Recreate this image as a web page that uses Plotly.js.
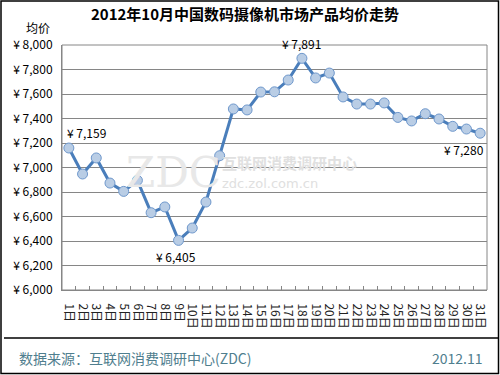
<!DOCTYPE html>
<html>
<head>
<meta charset="utf-8">
<script src="https://cdn.plot.ly/plotly-3.0.1.min.js"></script>
<style>
html,body{margin:0;padding:0;background:#fff;}
#chart{width:500px;height:375px;}
</style>
</head>
<body>
<div id="chart"></div>
<script>
// ---- data ----
var days = ["1日","2日","3日","4日","5日","6日","7日","8日","9日","10日","11日","12日","13日","14日","15日","16日","17日","18日","19日","20日","21日","22日","23日","24日","25日","26日","27日","28日","29日","30日","31日"];
var prices = [7159,6947,7078,6873,6805,6895,6631,6678,6405,6506,6718,7096,7478,7470,7616,7618,7714,7891,7731,7771,7576,7518,7518,7527,7409,7380,7439,7396,7336,7314,7280];
var yTickVals = [6000,6200,6400,6600,6800,7000,7200,7400,7600,7800,8000];
var yTickText = ["¥ 6,000","¥ 6,200","¥ 6,400","¥ 6,600","¥ 6,800","¥ 7,000","¥ 7,200","¥ 7,400","¥ 7,600","¥ 7,800","¥ 8,000"];
var labelIdx = [0, 8, 17, 30];
var titleText = "2012年10月中国数码摄像机市场产品均价走势";
var yTitle = "均价";
var sourceText = "数据来源：互联网消费调研中心(ZDC)";
var dateText = "2012.11";

// ---- layout helpers ----
var W = 500, H = 375;
var M = {l:62, r:13, t:45, b:85};
var PW = W - M.l - M.r, PH = H - M.t - M.b;
function px(x){ return (x - M.l) / PW; }
function py(y){ return (H - M.b - y) / PH; }

var FONT = "Noto Sans CJK SC, Noto Sans, sans-serif";
var lineColor = "#4a7ebb";

function fmt(v){ return "¥ " + v.toLocaleString("en-US"); }

var trace = {
  x: days, y: prices, type: "scatter", mode: "lines+markers",
  line: {color: lineColor, width: 3},
  marker: {size: 10, color: "#b9cde5", line: {color: "#6f98cc", width: 1}},
  hoverinfo: "x+y"
};

var anns = [];
var place = {
  0:  {xanchor:"left",  yanchor:"bottom", xshift:-4, yshift:5},
  8:  {xanchor:"center",yanchor:"top",    xshift:-3, yshift:-6},
  17: {xanchor:"center",yanchor:"bottom", xshift:0,  yshift:4},
  30: {xanchor:"right", yanchor:"top",    xshift:6,  yshift:-6}
};
labelIdx.forEach(function(i){
  var p = place[i];
  anns.push({x: days[i], y: prices[i], xref:"x", yref:"y", text: fmt(prices[i]),
    showarrow:false, xanchor:p.xanchor, yanchor:p.yanchor, xshift:p.xshift, yshift:p.yshift,
    font:{family:FONT, size:12, color:"#000"}});
});
anns.push({x: px(38), y: py(27), xref:"paper", yref:"paper", text: yTitle, showarrow:false,
  xanchor:"center", yanchor:"middle", font:{family:FONT, size:12, color:"#000"}});
anns.push({x: px(17), y: py(358), xref:"paper", yref:"paper", text: sourceText, showarrow:false,
  xanchor:"left", yanchor:"middle", font:{family:FONT, size:14, color:"#4f7e8e"}});
anns.push({x: px(485), y: py(358), xref:"paper", yref:"paper", text: dateText, showarrow:false,
  xanchor:"right", yanchor:"middle", font:{family:FONT, size:14, color:"#4f7e8e"}});
// watermark
anns.push({x: px(173), y: py(172), xref:"paper", yref:"paper", text: "ZDC", showarrow:false,
  xanchor:"center", yanchor:"middle", font:{family:"DejaVu Serif, serif", size:42, color:"#e8e8e8"}});
anns.push({x: px(220), y: py(162), xref:"paper", yref:"paper", text: "<b>互联网消费调研中心</b>", showarrow:false,
  xanchor:"left", yanchor:"middle", font:{family:FONT, size:15, color:"#e0e0e0"}});
anns.push({x: px(220), y: py(184), xref:"paper", yref:"paper", text: "zdc.zol.com.cn", showarrow:false,
  xanchor:"left", yanchor:"middle", font:{family:"DejaVu Sans, sans-serif", size:13, color:"#e0e0e0"}});

var shapes = [
  {type:"rect", xref:"paper", yref:"paper", x0:px(1), x1:px(498.5), y0:py(1), y1:py(373.5),
   line:{color:"#000", width:1.5}, layer:"below"},
  {type:"line", xref:"paper", yref:"paper", x0:px(4), x1:px(498), y0:py(338), y1:py(338),
   line:{color:"#000", width:1.5}},
  {type:"rect", xref:"paper", yref:"paper", x0:0, x1:1, y0:0, y1:1,
   line:{color:"#868686", width:1}, layer:"below"}
];

var layout = {
  width: W, height: H,
  margin: M,
  paper_bgcolor: "#fff", plot_bgcolor: "#fff",
  showlegend: false,
  title: {text: "<b>" + titleText + "</b>", x: 245/W, xref:"container", xanchor:"center",
          y: 1 - 15/H, yref:"container", yanchor:"middle",
          font:{family:FONT, size:15, color:"#000"}},
  xaxis: {type:"category", range:[-0.5, 30.5], showgrid:false, zeroline:false,
          tickmode:"array", tickvals:days, ticktext:days,
          showline:true, linecolor:"#868686", linewidth:1,
          ticks:"inside", tickson:"boundaries", ticklen:4, tickcolor:"#868686",
          tickangle:90, ticklabelstandoff:10,
          tickfont:{family:FONT, size:12, color:"#222"}, fixedrange:true},
  yaxis: {range:[6000, 8000], tickvals:yTickVals, ticktext:yTickText,
          showgrid:true, gridcolor:"#868686", gridwidth:1, zeroline:false,
          showline:true, linecolor:"#868686", linewidth:1, ticks:"",
          ticklabelstandoff:6,
          tickfont:{family:FONT, size:12, color:"#000"}, fixedrange:true},
  annotations: anns,
  shapes: shapes
};

Plotly.newPlot("chart", [trace], layout, {displayModeBar:false, staticPlot:true});
</script>
</body>
</html>
